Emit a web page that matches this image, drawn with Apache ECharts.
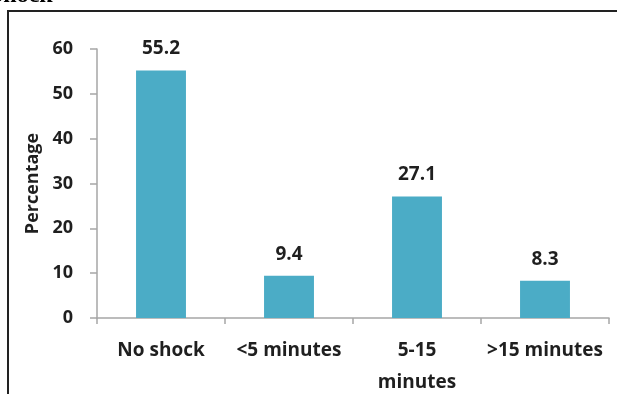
<!DOCTYPE html>
<html>
<head>
<meta charset="utf-8">
<script src="https://cdn.jsdelivr.net/npm/echarts@6/dist/echarts.min.js"></script>
<style>
  html, body { margin: 0; padding: 0; background: #ffffff; }
  #chart { width: 617px; height: 394px; }
</style>
</head>
<body>
<div id="chart"></div>
<script>
// Duration of shock categories and their share of patients (%)
const categories = ['No shock', '<5 minutes', '5-15\nminutes', '>15 minutes'];
const percentages = [55.2, 9.4, 27.1, 8.3];
const yTicks = { min: 0, max: 60, interval: 10 };

const font = '"Open Sans", Lato, sans-serif';
const textColor = '#1f1f1f';
const chart = echarts.init(document.getElementById('chart'), null, { renderer: 'canvas' });

chart.setOption({
  backgroundColor: '#ffffff',
  animation: false,
  grid: {
    left: 97, right: 8, top: 49, bottom: 76,
    containLabel: false, outerBoundsMode: 'none'
  },
  graphic: [
    // caption text above the frame, partly cut off by the page edge
    {
      type: 'text', x: -10, y: 8, z: 10,
      style: {
        text: 'Shock', fontFamily: '"Liberation Serif", serif', fontWeight: 'bold',
        fontSize: 24, fill: '#000', verticalAlign: 'bottom', align: 'left'
      }
    },
    // frame lines
    { type: 'line', shape: { x1: 8, y1: 11, x2: 617, y2: 11 }, style: { stroke: '#222', lineWidth: 2 } },
    { type: 'line', shape: { x1: 8, y1: 10, x2: 8, y2: 394 }, style: { stroke: '#222', lineWidth: 2 } }
  ],
  xAxis: {
    type: 'category',
    data: categories,
    axisLine: { lineStyle: { color: '#a6a6a6', width: 1.5 } },
    axisTick: { show: true, length: 6, lineStyle: { color: '#a6a6a6', width: 1.5 } },
    axisLabel: {
      color: textColor, fontFamily: font, fontWeight: 'bold', fontSize: 19,
      margin: 17, lineHeight: 32, interval: 0
    }
  },
  yAxis: {
    type: 'value',
    min: yTicks.min, max: yTicks.max, interval: yTicks.interval,
    name: 'Percentage',
    nameLocation: 'middle',
    nameGap: 55,
    nameTextStyle: { color: textColor, fontFamily: font, fontWeight: 'bold', fontSize: 18 },
    axisLine: { show: true, lineStyle: { color: '#a6a6a6', width: 1.5 } },
    axisTick: { show: true, length: 7, lineStyle: { color: '#a6a6a6', width: 1.5 } },
    splitLine: { show: false },
    axisLabel: {
      color: textColor, fontFamily: font, fontWeight: 'bold', fontSize: 18, margin: 24
    }
  },
  series: [{
    type: 'bar',
    data: percentages,
    barWidth: '39%',
    itemStyle: { color: '#4bacc6' },
    label: {
      show: true, position: 'top', distance: 12,
      color: textColor, fontFamily: font, fontWeight: 'bold', fontSize: 19,
      formatter: p => p.value.toFixed(1)
    }
  }]
});
</script>
</body>
</html>
